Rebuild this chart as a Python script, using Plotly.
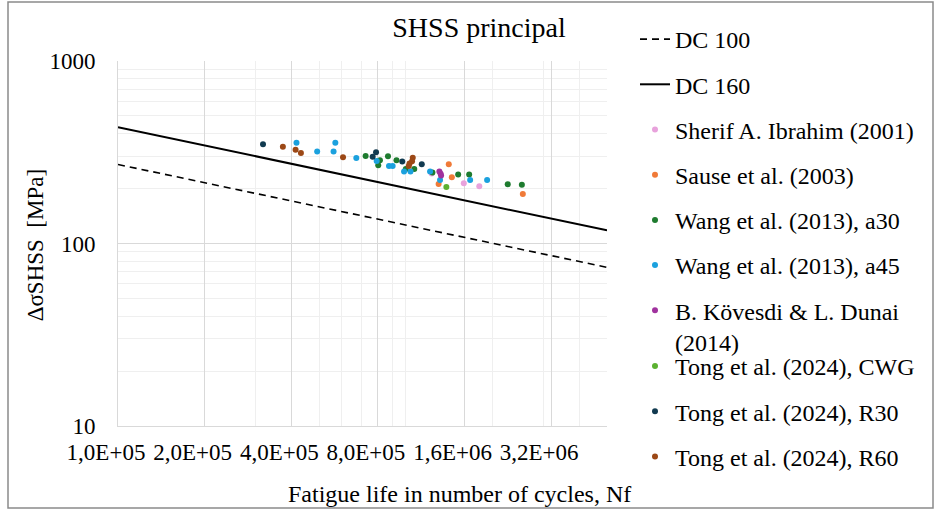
import plotly.graph_objects as go

# Detail-category S-N lines (end points at N = 1e5 and 5e6)
line_N = [1e5, 5e6]
dc100_S = [271, 74]
dc160_S = [434, 118]

# Test series: cycles to failure and hot-spot stress range [MPa]
sherif_N = [1.23e6, 1.59e6, 1.80e6]
sherif_S = [242, 214, 206]

sause_N = [1.41e6, 1.445e6, 1.30e6, 2.55e6]
sause_S = [272, 231, 212, 187]

wang30_N = [7.25e5, 8.13e5, 8.02e5, 8.67e5, 9.28e5, 1.00e6, 1.07e6, 1.237e6,
            1.52e6, 1.66e6, 2.26e6, 2.53e6]
wang30_S = [302, 286, 268, 301, 286, 256, 256, 245, 239, 239, 211, 210]

wang45_N = [4.17e5, 5.69e5, 4.92e5, 5.61e5, 6.73e5, 7.92e5, 8.74e5, 9.00e5,
            9.86e5, 1.038e6, 1.214e6, 1.315e6, 1.673e6, 1.916e6]
wang45_S = [356, 356, 319, 319, 294, 283, 266, 266, 248, 248, 248, 223, 223, 223]

kovesdi_N = [1.308e6, 1.321e6, 1.326e6]
kovesdi_S = [248, 241, 236]

cwg_N = [1.383e6]
cwg_S = [204]

r30_N = [3.19e5, 7.88e5, 7.67e5, 9.72e5, 1.136e6]
r30_S = [350, 316, 299, 281, 272]

r60_N = [3.74e5, 4.14e5, 4.32e5, 6.05e5, 1.057e6, 1.051e6, 1.030e6, 1.024e6]
r60_S = [339, 326, 313, 297, 295, 282, 274, 266]

x_ticks = [1e5, 2e5, 4e5, 8e5, 1.6e6, 3.2e6]
x_ticktext = ["1,0E+05", "2,0E+05", "4,0E+05", "8,0E+05", "1,6E+06", "3,2E+06"]
x_minor = [3e5, 5e5, 6e5, 7e5, 9e5, 1e6, 2e6, 3e6, 4e6, 5e6]
y_ticks = [10, 100, 1000]
y_ticktext = ["10", "100", "1000"]
y_minor = [20, 30, 40, 50, 60, 70, 80, 90, 200, 300, 400, 500, 600, 700, 800, 900]

FONT = "'Liberation Serif', 'Times New Roman', Times, serif"
FS = 23
FS_LEG = 24

fig = go.Figure()

fig.add_trace(go.Scatter(x=line_N, y=dc100_S, mode="lines", name="DC 100",
                         line=dict(color="black", width=1.6, dash="7px,5px"),
                         legendgroup="g1"))
fig.add_trace(go.Scatter(x=line_N, y=dc160_S, mode="lines", name="DC 160",
                         line=dict(color="black", width=2), legendgroup="g2"))

series = [
    ("Sherif A. Ibrahim (2001)", sherif_N, sherif_S, "#E8A2DC", "legend"),
    ("Sause et al. (2003)", sause_N, sause_S, "#F07A38", "legend"),
    ("Wang et al. (2013), a30", wang30_N, wang30_S, "#1E7B2F", "legend"),
    ("Wang et al. (2013), a45", wang45_N, wang45_S, "#1BA1DE", "legend"),
    ("B. Kövesdi & L. Dunai<br>(2014)", kovesdi_N, kovesdi_S, "#A0329E", "legend"),
    ("Tong et al. (2024), CWG", cwg_N, cwg_S, "#5BB131", "legend2"),
    ("Tong et al. (2024), R30", r30_N, r30_S, "#113A50", "legend2"),
    ("Tong et al. (2024), R60", r60_N, r60_S, "#9C4816", "legend2"),
]
for i, (name, xs, ys, col, leg) in enumerate(series):
    fig.add_trace(go.Scatter(x=xs, y=ys, mode="markers", name=name,
                             marker=dict(color=col, size=6),
                             legendgroup=f"s{i}", legend=leg))

legend_style = dict(font=dict(family=FONT, size=FS_LEG, color="black"),
                    bgcolor="rgba(0,0,0,0)", borderwidth=0,
                    tracegroupgap=11, traceorder="grouped", valign="top",
                    xanchor="left", yanchor="top", itemwidth=30,
                    xref="container", yref="container", maxheight=1)

fig.update_layout(
    width=936, height=510,
    margin=dict(l=118, r=329, t=61, b=84, autoexpand=False),
    paper_bgcolor="white", plot_bgcolor="white",
    font=dict(family=FONT, size=FS, color="black"),
    title=dict(text="SHSS principal", x=479 / 936, y=1 - 27 / 510,
               xanchor="center", yanchor="middle", xref="container", yref="container",
               font=dict(family=FONT, size=28, color="black")),
    legend=dict(x=635 / 936, y=1 - 17 / 510, **legend_style),
    legend2=dict(x=635 / 936, y=1 - 344 / 510, **legend_style),
    showlegend=True,
)

fig.update_xaxes(
    type="log", range=[5, 6.69897],
    tickmode="array", tickvals=x_ticks, ticktext=x_ticktext, tickangle=0,
    tickfont=dict(family=FONT, size=FS), ticks="", ticklabelstandoff=5,
    ticklabelshift=-12,
    showgrid=True, gridcolor="#d9d9d9", gridwidth=1,
    showline=True, linecolor="#d9d9d9", linewidth=1, zeroline=False,
    minor=dict(tickmode="array", tickvals=x_minor, showgrid=True,
               gridcolor="#efefef", gridwidth=1, ticks=""),
)
fig.update_yaxes(
    type="log", range=[1, 3],
    tickmode="array", tickvals=y_ticks, ticktext=y_ticktext,
    tickfont=dict(family=FONT, size=FS), ticks="", ticklabelstandoff=17,
    showgrid=True, gridcolor="#d9d9d9", gridwidth=1,
    showline=True, linecolor="#d9d9d9", linewidth=1, zeroline=False,
    minor=dict(tickmode="array", tickvals=y_minor, showgrid=True,
               gridcolor="#efefef", gridwidth=1, ticks=""),
)

# axis titles
fig.add_annotation(text="ΔσSHSS  [MPa]", xref="paper", yref="paper",
                   x=(35 - 118) / 489, y=0.495, textangle=-90, showarrow=False,
                   xanchor="center", yanchor="middle",
                   font=dict(family=FONT, size=FS, color="black"))
fig.add_annotation(text="Fatigue life in number of cycles, Nf", xref="paper", yref="paper",
                   x=(459 - 118) / 489, y=(426 - 494) / 365, showarrow=False,
                   xanchor="center", yanchor="middle",
                   font=dict(family=FONT, size=24, color="black"))

# chart frame
fig.add_shape(type="rect", xref="paper", yref="paper",
              x0=(8 - 118) / 489, x1=(933 - 118) / 489,
              y0=(426 - 508) / 365, y1=(426 - 2) / 365,
              line=dict(color="#8a8a8a", width=1.5), fillcolor="rgba(0,0,0,0)",
              layer="below")

fig.write_html("out.html")
